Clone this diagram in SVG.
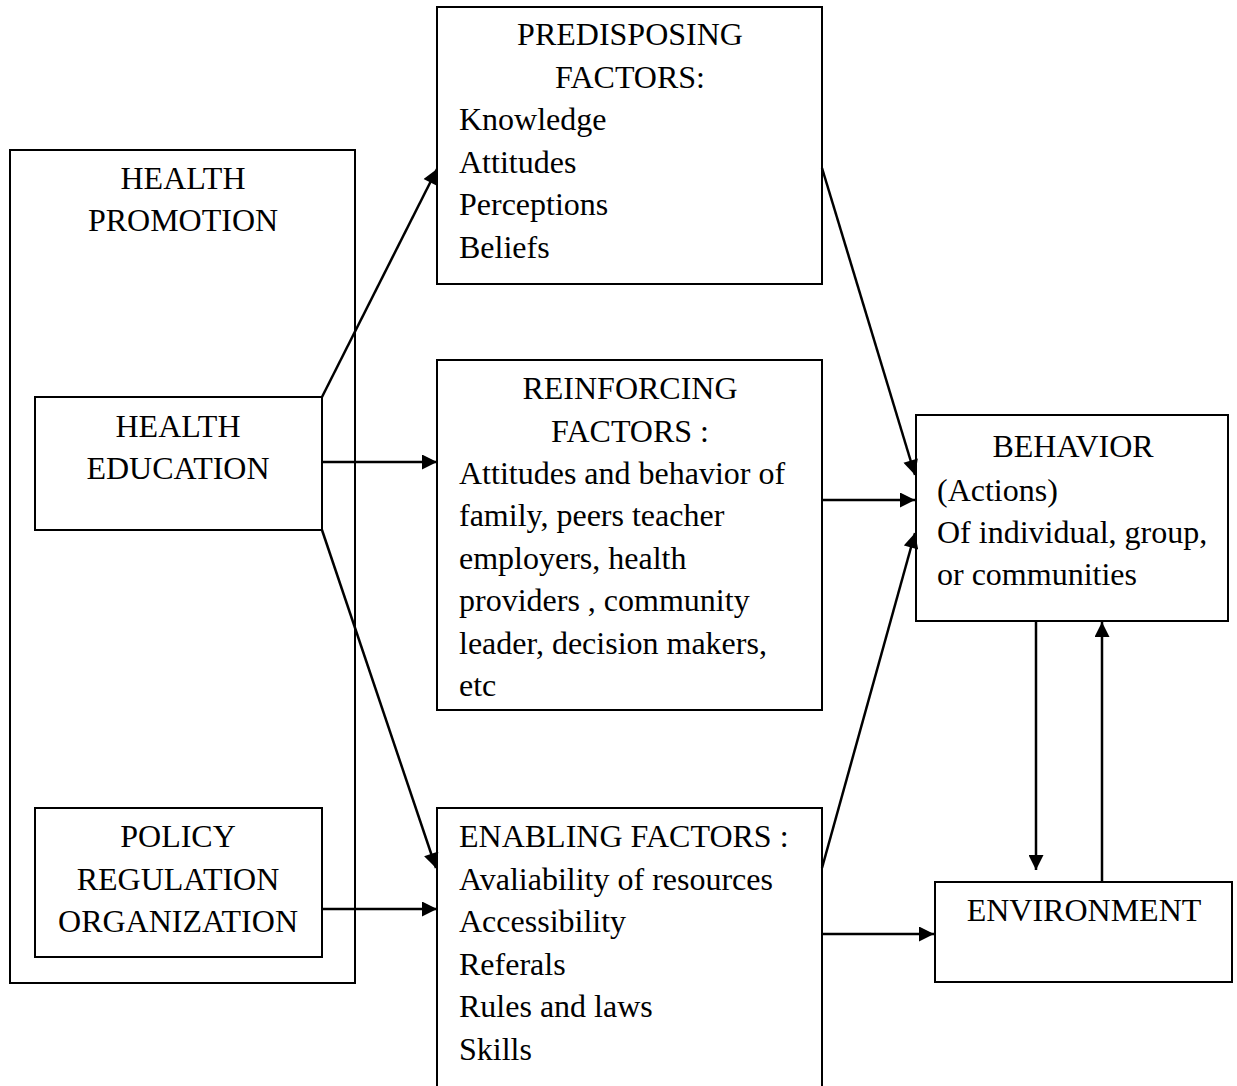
<svg xmlns="http://www.w3.org/2000/svg" width="1237" height="1086" viewBox="0 0 1237 1086">
  <style>
    .box { fill: #ffffff; stroke: #000000; stroke-width: 2; }
    .t { font-family: "Liberation Serif", "Times New Roman", serif; font-size: 32px; fill: #000000; }
    .c { text-anchor: middle; }
    .edge { stroke: #000000; stroke-width: 2.5; fill: none; marker-end: url(#arrow); }
  </style>
  <defs>
    <marker id="arrow" viewBox="0 0 10 10" refX="10" refY="5" markerWidth="6.4" markerHeight="6" markerUnits="strokeWidth" orient="auto">
      <path d="M0,0 L10,5 L0,10 z" fill="#000000"/>
    </marker>
  </defs>
  <rect width="1237" height="1086" fill="#ffffff"/>

  <g id="health-promotion">
    <rect class="box" x="10" y="150" width="345" height="833"/>
    <text class="t c" x="183" y="189">HEALTH</text>
    <text class="t c" x="183" y="231">PROMOTION</text>
  </g>

  <g id="health-education">
    <rect class="box" x="35" y="397" width="287" height="133"/>
    <text class="t c" x="178" y="437">HEALTH</text>
    <text class="t c" x="178" y="479">EDUCATION</text>
  </g>

  <g id="policy">
    <rect class="box" x="35" y="808" width="287" height="149"/>
    <text class="t c" x="178" y="847">POLICY</text>
    <text class="t c" x="178" y="890">REGULATION</text>
    <text class="t c" x="178" y="932">ORGANIZATION</text>
  </g>

  <g id="predisposing">
    <rect class="box" x="437" y="7" width="385" height="277"/>
    <text class="t c" x="630" y="45">PREDISPOSING</text>
    <text class="t c" x="630" y="88">FACTORS:</text>
    <text class="t" x="459" y="130">Knowledge</text>
    <text class="t" x="459" y="173">Attitudes</text>
    <text class="t" x="459" y="215">Perceptions</text>
    <text class="t" x="459" y="258">Beliefs</text>
  </g>

  <g id="reinforcing">
    <rect class="box" x="437" y="360" width="385" height="350"/>
    <text class="t c" x="630" y="399">REINFORCING</text>
    <text class="t c" x="630" y="442">FACTORS :</text>
    <text class="t" x="459" y="484">Attitudes and behavior of</text>
    <text class="t" x="459" y="526">family, peers teacher</text>
    <text class="t" x="459" y="569">employers, health</text>
    <text class="t" x="459" y="611">providers , community</text>
    <text class="t" x="459" y="654">leader, decision makers,</text>
    <text class="t" x="459" y="696">etc</text>
  </g>

  <g id="enabling">
    <rect class="box" x="437" y="808" width="385" height="290"/>
    <text class="t" x="459" y="847">ENABLING FACTORS :</text>
    <text class="t" x="459" y="890">Avaliability of resources</text>
    <text class="t" x="459" y="932">Accessibility</text>
    <text class="t" x="459" y="975">Referals</text>
    <text class="t" x="459" y="1017">Rules and laws</text>
    <text class="t" x="459" y="1060">Skills</text>
  </g>

  <g id="behavior">
    <rect class="box" x="916" y="415" width="312" height="206"/>
    <text class="t c" x="1073" y="457">BEHAVIOR</text>
    <text class="t" x="937" y="501">(Actions)</text>
    <text class="t" x="937" y="543">Of individual, group,</text>
    <text class="t" x="937" y="585">or communities</text>
  </g>

  <g id="environment">
    <rect class="box" x="935" y="882" width="297" height="100"/>
    <text class="t c" x="1084" y="921">ENVIRONMENT</text>
  </g>

  <g id="connectors">
    <line class="edge" x1="322" y1="397" x2="437" y2="169"/>
    <line class="edge" x1="322" y1="462" x2="437" y2="462"/>
    <line class="edge" x1="322" y1="530" x2="436" y2="868"/>
    <line class="edge" x1="322" y1="909" x2="437" y2="909"/>
    <line class="edge" x1="822" y1="168" x2="915" y2="475"/>
    <line class="edge" x1="822" y1="500" x2="915" y2="500"/>
    <line class="edge" x1="822" y1="868" x2="915" y2="533"/>
    <line class="edge" x1="822" y1="934" x2="934" y2="934"/>
    <line class="edge" x1="1036" y1="621" x2="1036" y2="870"/>
    <line class="edge" x1="1102" y1="882" x2="1102" y2="622"/>
  </g>
</svg>
